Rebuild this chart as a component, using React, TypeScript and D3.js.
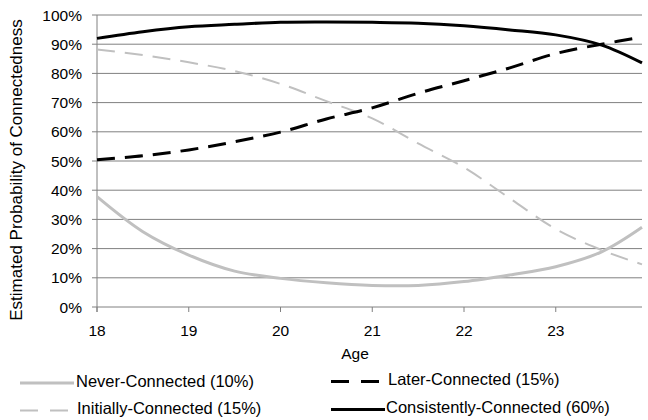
import React from "react";
import * as d3 from "d3";

const ages = [18, 18.5, 19, 19.5, 20, 20.5, 21, 21.5, 22, 22.5, 23, 23.5, 23.94];
const neverConnected = [37.8, 25.8, 17.8, 12.3, 9.8, 8.3, 7.4, 7.4, 8.7, 11.0, 13.8, 18.9, 27.3];
const initiallyConnected = [88.2, 86.3, 83.8, 80.8, 76.4, 70.5, 64.6, 56.0, 47.8, 37.2, 26.7, 19.5, 14.6];
const laterConnected = [50.4, 51.8, 53.8, 56.6, 59.9, 64.4, 68.2, 73.2, 77.5, 81.9, 86.8, 90.0, 92.4];
const consistentlyConnected = [92.0, 94.3, 96.0, 96.8, 97.5, 97.6, 97.5, 97.2, 96.3, 94.9, 93.2, 89.7, 83.6];
const xTicks = [18, 19, 20, 21, 22, 23];
const yTicks = [0, 10, 20, 30, 40, 50, 60, 70, 80, 90, 100];

const series = [
  { name: "Never-Connected (10%)", values: neverConnected, color: "#c0c0c0", width: 3, dash: "" },
  { name: "Initially-Connected (15%)", values: initiallyConnected, color: "#c0c0c0", width: 2, dash: "18,10" },
  { name: "Later-Connected (15%)", values: laterConnected, color: "#000000", width: 3, dash: "18,10" },
  { name: "Consistently-Connected (60%)", values: consistentlyConnected, color: "#000000", width: 3, dash: "" },
];

const legendPos = [
  { lx: 20, ly: 383, tx: 76 },
  { lx: 20, ly: 410.5, tx: 77 },
  { lx: 331, ly: 381.5, tx: 388 },
  { lx: 331, ly: 409.5, tx: 386 },
];

export default function App() {
  const W = 648, H = 420;
  const x = d3.scaleLinear().domain([18, 23.94]).range([97, 642]);
  const y = d3.scaleLinear().domain([0, 100]).range([307, 15]);
  const font = "'Liberation Sans', Arial, sans-serif";
  const line = d3
    .line<number>()
    .x((_, i) => x(ages[i]))
    .y((d) => y(d))
    .curve(d3.curveCatmullRom.alpha(0.5));

  return (
    <svg width={W} height={H} style={{ position: "absolute", left: 0, top: 0, background: "#fff" }}>
      {yTicks.map((t) => (
        <g key={t}>
          {t > 0 && <line x1={x(18)} x2={642} y1={y(t)} y2={y(t)} stroke="#808080" strokeWidth={1} />}
          <line x1={92} x2={97} y1={y(t)} y2={y(t)} stroke="#808080" strokeWidth={1} />
          <text x={82} y={y(t) + 5.5} textAnchor="end" fontFamily={font} fontSize={15.5} fill="#000">
            {t}%
          </text>
        </g>
      ))}
      <line x1={x(18)} x2={x(18)} y1={y(100)} y2={y(0) + 5} stroke="#808080" strokeWidth={1} />
      <line x1={x(18)} x2={642} y1={y(0)} y2={y(0)} stroke="#808080" strokeWidth={1} />
      {xTicks.map((t) => (
        <g key={t}>
          <line x1={x(t)} x2={x(t)} y1={y(0)} y2={y(0) + 5} stroke="#808080" strokeWidth={1} />
          <text x={x(t)} y={336} textAnchor="middle" fontFamily={font} fontSize={15.5} fill="#000">
            {t}
          </text>
        </g>
      ))}
      <text x={355} y={359} textAnchor="middle" fontFamily={font} fontSize={15.5} fill="#000">
        Age
      </text>
      <text
        transform={`translate(21.5,170) rotate(-90)`}
        textAnchor="middle"
        fontFamily={font}
        fontSize={17}
        fill="#000"
      >
        Estimated Probability of Connectedness
      </text>
      {series.map((s) => (
        <path
          key={s.name}
          d={line(s.values) || ""}
          fill="none"
          stroke={s.color}
          strokeWidth={s.width}
          strokeDasharray={s.dash || undefined}
        />
      ))}
      {series.map((s, i) => {
        const p = legendPos[i];
        return (
          <g key={"lg" + s.name}>
            <line
              x1={p.lx}
              x2={p.lx + 54}
              y1={p.ly}
              y2={p.ly}
              stroke={s.color}
              strokeWidth={s.width}
              strokeDasharray={s.dash ? "18,12" : undefined}
            />
            <text x={p.tx} y={p.ly + 3.5} fontFamily={font} fontSize={16.5} fill="#000">
              {s.name}
            </text>
          </g>
        );
      })}
    </svg>
  );
}
